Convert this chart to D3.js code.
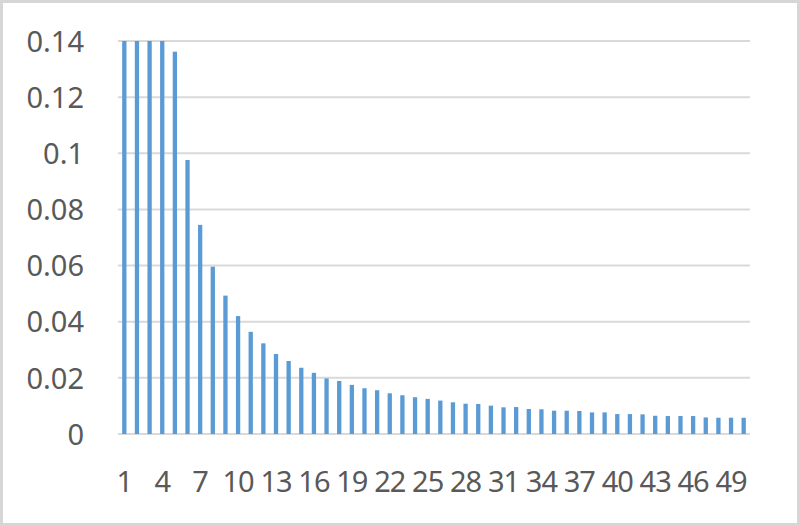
<!DOCTYPE html>
<html>
<head>
<meta charset="utf-8">
<script src="https://cdn.jsdelivr.net/npm/d3@7"></script>
<style>
  body { margin: 0; background: #fff; }
  svg text { font-family: "Noto Sans", "DejaVu Sans", sans-serif; fill: #595959; }
</style>
</head>
<body>
<script>
// values, index 1..50
var categories = d3.range(1, 51);
var values = [
  0.14, 0.14, 0.14, 0.14, 0.1362, 0.0976, 0.0745, 0.0596, 0.0493, 0.0420,
  0.0364, 0.0323, 0.0285, 0.0260, 0.0236, 0.0218, 0.0198, 0.0189, 0.0175, 0.0163,
  0.0156, 0.0145, 0.0138, 0.0131, 0.0125, 0.0119, 0.0113, 0.0108, 0.0107, 0.0101,
  0.0095, 0.0096, 0.0089, 0.0088, 0.0083, 0.0083, 0.0082, 0.0077, 0.0077, 0.0071,
  0.0071, 0.0070, 0.0065, 0.0064, 0.0064, 0.0064, 0.0059, 0.0058, 0.0058, 0.0058
];
var yTicks = [0, 0.02, 0.04, 0.06, 0.08, 0.1, 0.12, 0.14];
var xTickLabels = d3.range(1, 51, 3);

function drawChart() {
  var width = 800, height = 526;
  var left = 118, right = 750, top = 41, bottom = 434;

  var svg = d3.select("body").append("svg")
    .attr("width", width)
    .attr("height", height);

  // outer frame
  svg.append("rect")
    .attr("x", 1.5).attr("y", 1.5)
    .attr("width", width - 3).attr("height", height - 3)
    .attr("fill", "#fff")
    .attr("stroke", "#d6d6d6")
    .attr("stroke-width", 3);

  var x = d3.scaleBand()
    .domain(categories)
    .range([left, right])
    .paddingInner(0.66)
    .paddingOuter(0.33);

  var y = d3.scaleLinear()
    .domain([0, 0.14])
    .range([bottom, top]);

  // gridlines
  svg.append("g")
    .selectAll("line")
    .data(yTicks)
    .enter().append("line")
    .attr("x1", left).attr("x2", right)
    .attr("y1", function(d) { return y(d); })
    .attr("y2", function(d) { return y(d); })
    .attr("stroke", "#d9d9d9")
    .attr("stroke-width", 2);

  // bars
  svg.append("g")
    .selectAll("rect")
    .data(values)
    .enter().append("rect")
    .attr("x", function(d, i) { return x(categories[i]); })
    .attr("width", x.bandwidth())
    .attr("y", function(d) { return y(d); })
    .attr("height", function(d) { return y(0) - y(d); })
    .attr("fill", "#5b9bd5");

  // y axis labels
  var yAxis = d3.axisLeft(y)
    .tickValues(yTicks)
    .tickSize(0)
    .tickPadding(0)
    .tickFormat(function(d) { return d3.format("")(+d.toFixed(2)); });

  var gy = svg.append("g")
    .attr("transform", "translate(84,0)")
    .call(yAxis);
  gy.select(".domain").remove();
  gy.selectAll("text")
    .attr("font-size", 29)
    .attr("dy", "0.35em")
    .attr("fill", "#595959");

  // x axis labels
  var xAxis = d3.axisBottom(x)
    .tickValues(xTickLabels)
    .tickSize(0)
    .tickPadding(0);

  var gx = svg.append("g")
    .attr("transform", "translate(0,482)")
    .call(xAxis);
  gx.select(".domain").remove();
  gx.selectAll("text")
    .attr("font-size", 29)
    .attr("dy", "0.35em")
    .attr("letter-spacing", "-1px")
    .attr("fill", "#595959");
}

document.addEventListener("DOMContentLoaded", function(event) {
  drawChart();
});
</script>
</body>
</html>
